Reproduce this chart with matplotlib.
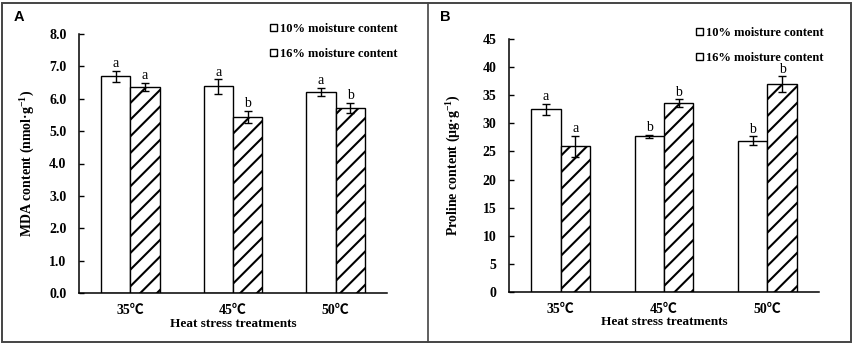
import matplotlib
matplotlib.use("Agg")
import matplotlib.pyplot as plt
import numpy as np
from matplotlib.patches import Rectangle
from matplotlib.lines import Line2D

plt.rcParams['font.family'] = ['Liberation Serif', 'Noto Sans CJK SC', 'DejaVu Sans']
plt.rcParams['font.weight'] = 'bold'
plt.rcParams['axes.labelweight'] = 'bold'
plt.rcParams['mathtext.default'] = 'regular'
plt.rcParams['hatch.linewidth'] = 1.5
plt.rcParams['hatch.color'] = 'black'

categories = ['35℃', '45℃', '50℃']
series_labels = ['10% moisture content', '16% moisture content']

mda_10 = [6.70, 6.38, 6.21]
mda_10_err = [0.17, 0.22, 0.13]
mda_16 = [6.37, 5.44, 5.72]
mda_16_err = [0.13, 0.18, 0.15]
mda_10_letters = ['a', 'a', 'a']
mda_16_letters = ['a', 'b', 'b']

pro_10 = [32.5, 27.7, 26.9]
pro_10_err = [1.0, 0.25, 0.8]
pro_16 = [25.9, 33.6, 37.0]
pro_16_err = [1.9, 0.65, 1.35]
pro_10_letters = ['a', 'b', 'b']
pro_16_letters = ['a', 'b', 'b']

W, H = 856, 348
fig = plt.figure(figsize=(W / 100, H / 100), dpi=100)

def px_axes(l, r, t, b):
    return [l / W, 1 - b / H, (r - l) / W, (b - t) / H]

ax1 = fig.add_axes(px_axes(79, 387, 34, 293))
ax2 = fig.add_axes(px_axes(509, 819, 39, 292))

TFS = 10     # tick labels
YLFS = 10    # y axis label
XLFS = 9.5   # x axis label
AFS = 10     # letters
GFS = 9      # legend
bw = 0.285

def draw(ax, v10, e10, v16, e16, l10, l16, ylim, yticks, yfmt, ylabel, ylab_x, xlab_y):
    x = np.arange(len(categories))
    ax.bar(x - bw / 2, v10, bw, color='white', edgecolor='black', linewidth=1.0,
           label=series_labels[0], zorder=2)
    ax.bar(x + bw / 2, v16, bw, color='white', edgecolor='black', linewidth=1.0,
           hatch='//', label=series_labels[1], zorder=2)
    ax.errorbar(x - bw / 2, v10, yerr=e10, fmt='none', ecolor='black', elinewidth=1.0,
                capsize=3, capthick=1.0, zorder=3)
    ax.errorbar(x + bw / 2, v16, yerr=e16, fmt='none', ecolor='black', elinewidth=1.0,
                capsize=3, capthick=1.0, zorder=3)
    for xi, v, e, t in zip(x - bw / 2, v10, e10, l10):
        ax.annotate(t, (xi, v + e), xytext=(0, 0.5), textcoords='offset points',
                    ha='center', va='bottom', fontsize=AFS, fontweight='normal')
    for xi, v, e, t in zip(x + bw / 2, v16, e16, l16):
        ax.annotate(t, (xi, v + e), xytext=(0, 0.5), textcoords='offset points',
                    ha='center', va='bottom', fontsize=AFS, fontweight='normal')
    ax.set_xlim(-0.5, 2.5)
    ax.set_ylim(*ylim)
    ax.set_yticks(yticks)
    ax.set_yticklabels([yfmt.format(t) for t in yticks], fontsize=TFS)
    ax.set_xticks(x)
    ax.set_xticklabels(categories, fontsize=TFS)
    ax.tick_params(axis='y', direction='in', length=3.5, width=1.0, pad=9)
    ax.tick_params(axis='x', length=0, pad=8)
    for s in ['top', 'right']:
        ax.spines[s].set_visible(False)
    for s in ['left', 'bottom']:
        ax.spines[s].set_linewidth(1.1)
    ax.set_ylabel(ylabel, fontsize=YLFS)
    ax.yaxis.set_label_coords(ylab_x, 0.5)
    ax.set_xlabel('Heat stress treatments', fontsize=XLFS)
    ax.xaxis.set_label_coords(0.5, xlab_y)

draw(ax1, mda_10, mda_10_err, mda_16, mda_16_err, mda_10_letters, mda_16_letters,
     (0, 8), np.arange(0, 8.01, 1.0), '{:.1f}', r'MDA content (nmol·g$^{-1}$)', -0.136, -0.097)
draw(ax2, pro_10, pro_10_err, pro_16, pro_16_err, pro_10_letters, pro_16_letters,
     (0, 45), np.arange(0, 46, 5), '{:.0f}', r'Proline content (μg·g$^{-1}$)', -0.148, -0.095)

for ax, lx, ty in [(ax1, 270, 23), (ax2, 696, 27)]:
    h, l = ax.get_legend_handles_labels()
    leg = fig.legend(h, l, loc='upper left', bbox_to_anchor=(lx / W, 1 - ty / H),
                     bbox_transform=fig.transFigure, frameon=False, fontsize=GFS,
                     handlelength=0.55, handleheight=0.55, handletextpad=0.25,
                     labelspacing=1.05, borderpad=0, borderaxespad=0)

fig.add_artist(Rectangle((2 / W, 1 - 342 / H), (851 - 2) / W, (342 - 3) / H,
                         transform=fig.transFigure, fill=False, edgecolor='#444444', lw=1.4))
fig.add_artist(Line2D([428 / W, 428 / W], [1 - 342 / H, 1 - 3 / H],
                      transform=fig.transFigure, color='#444444', lw=1.2))

fig.text(14 / W, 1 - 17 / H, 'A', family='Liberation Sans', weight='bold', fontsize=10.5, va='center')
fig.text(440 / W, 1 - 17 / H, 'B', family='Liberation Sans', weight='bold', fontsize=10.5, va='center')

fig.savefig('out.png', dpi=100)
